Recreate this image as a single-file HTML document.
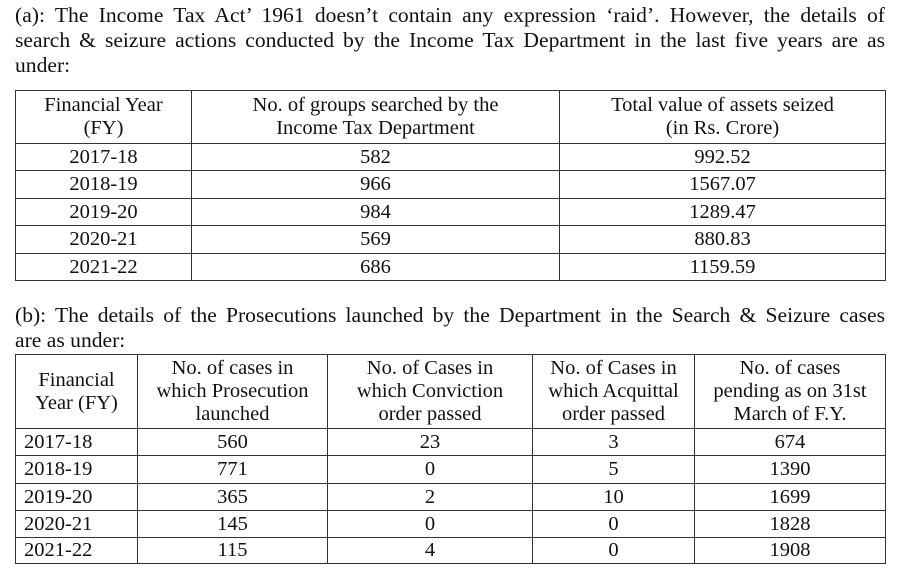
<!DOCTYPE html>
<html><head><meta charset="utf-8"><style>
*{font-family:"Liberation Serif","Times New Roman",serif !important;}
body{margin:0;width:900px;height:577px;background:#fff;position:relative;overflow:hidden;color:#111;}
.l{position:absolute;left:15px;width:870px;font-size:21.6px;line-height:25px;white-space:nowrap;}
.j{text-align:justify;text-align-last:justify;white-space:normal;}
table{position:absolute;left:15px;border-collapse:collapse;table-layout:fixed;}
td{border:1.5px solid #333;text-align:center;padding:0;line-height:23px;font-size:20.5px;color:#111;}
</style></head><body>
<div>
<div class="l j" style="top:3px">(a): The Income Tax Act’ 1961 doesn’t contain any expression ‘raid’. However, the details of</div>
<div class="l j" style="top:28px">search &amp; seizure actions conducted by the Income Tax Department in the last five years are as</div>
<div class="l" style="top:53px">under:</div>
</div>
<table style="top:90px;width:870px">
<colgroup><col style="width:176px"><col style="width:368px"><col style="width:326px"></colgroup>
<tr style="height:53px"><td>Financial Year<br>(FY)</td><td>No. of groups searched by the<br>Income Tax Department</td><td>Total value of assets seized<br>(in Rs. Crore)</td></tr>
<tr style="height:27px"><td>2017-18</td><td>582</td><td>992.52</td></tr>
<tr style="height:28px"><td>2018-19</td><td>966</td><td>1567.07</td></tr>
<tr style="height:27px"><td>2019-20</td><td>984</td><td>1289.47</td></tr>
<tr style="height:28px"><td>2020-21</td><td>569</td><td>880.83</td></tr>
<tr style="height:27px"><td>2021-22</td><td>686</td><td>1159.59</td></tr>
</table>
<div>
<div class="l j" style="top:303px">(b): The details of the Prosecutions launched by the Department in the Search &amp; Seizure cases</div>
<div class="l" style="top:328px">are as under:</div>
</div>
<table style="top:354px;width:870px">
<colgroup><col style="width:122px"><col style="width:190px"><col style="width:205px"><col style="width:162px"><col style="width:191px"></colgroup>
<tr style="height:74px"><td>Financial<br>Year (FY)</td><td>No. of cases in<br>which Prosecution<br>launched</td><td>No. of Cases in<br>which Conviction<br>order passed</td><td>No. of Cases in<br>which Acquittal<br>order passed</td><td>No. of cases<br>pending as on 31st<br>March of F.Y.</td></tr>
<tr style="height:27px"><td style="text-align:left;padding-left:8px">2017-18</td><td>560</td><td>23</td><td>3</td><td>674</td></tr>
<tr style="height:28px"><td style="text-align:left;padding-left:8px">2018-19</td><td>771</td><td>0</td><td>5</td><td>1390</td></tr>
<tr style="height:27px"><td style="text-align:left;padding-left:8px">2019-20</td><td>365</td><td>2</td><td>10</td><td>1699</td></tr>
<tr style="height:27px"><td style="text-align:left;padding-left:8px">2020-21</td><td>145</td><td>0</td><td>0</td><td>1828</td></tr>
<tr style="height:26px"><td style="text-align:left;padding-left:8px">2021-22</td><td>115</td><td>4</td><td>0</td><td>1908</td></tr>
</table>
</body></html>
